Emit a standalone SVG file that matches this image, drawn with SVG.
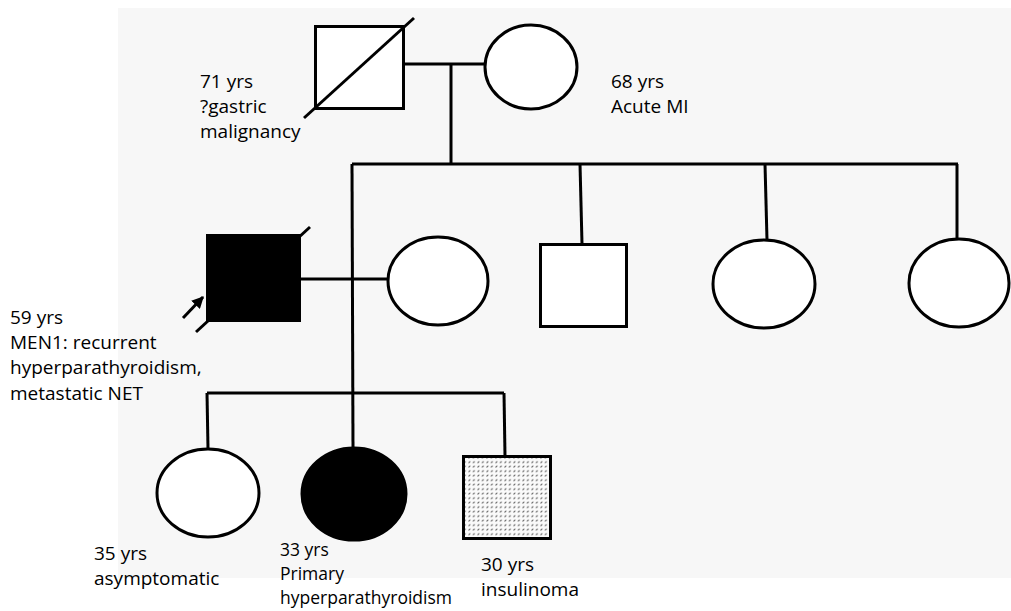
<svg xmlns="http://www.w3.org/2000/svg" width="1011" height="611" viewBox="0 0 1011 611">
<style>
.ln{stroke:#000;stroke-width:3;fill:none;stroke-linecap:butt}
.sym{stroke:#000;stroke-width:3;fill:#fff}
.aff{stroke:#000;stroke-width:3;fill:#000}
.lbl{font-family:"Open Sans","Liberation Sans",sans-serif;font-size:19px;fill:#000}
.lbs{font-size:17.5px}
</style>
<defs>
<pattern id="hatch" width="4.5" height="4.5" patternUnits="userSpaceOnUse">
<rect width="4.5" height="4.5" fill="#fafafa"/>
<line x1="0.5" y1="4" x2="2.2" y2="2.3" stroke="#444" stroke-width="1"/>
</pattern>
<marker id="ah" viewBox="0 0 10 10" refX="9" refY="5" markerWidth="4" markerHeight="4" orient="auto">
<path d="M0,0 L10,5 L0,10 z" fill="#000"/>
</marker>
</defs>
<rect x="0" y="0" width="1011" height="611" fill="#fff"/>
<rect x="118" y="8" width="893" height="570" fill="#f7f7f7"/>

<g id="connectors">
<line class="ln" x1="404" y1="64" x2="486" y2="64"/>
<line class="ln" x1="451" y1="64" x2="451" y2="164"/>
<line class="ln" x1="352" y1="164" x2="958" y2="164"/>
<line class="ln" x1="352" y1="164" x2="353" y2="447"/>
<line class="ln" x1="580" y1="164" x2="582" y2="244"/>
<line class="ln" x1="765" y1="164" x2="767" y2="240"/>
<line class="ln" x1="957" y1="164" x2="957" y2="238"/>
<line class="ln" x1="300" y1="279" x2="389" y2="279"/>
<line class="ln" x1="207" y1="393" x2="504" y2="393"/>
<line class="ln" x1="207" y1="393" x2="208" y2="449"/>
<line class="ln" x1="504" y1="393" x2="505" y2="456"/>
</g>

<g id="gen1-father">
<rect class="sym" x="315.5" y="26.5" width="88" height="82"/>
<line class="ln" x1="304" y1="118" x2="414" y2="18"/>
<text class="lbl" x="200" y="88">71 yrs</text>
<text class="lbl" x="200" y="113">?gastric</text>
<text class="lbl" x="200" y="138">malignancy</text>
</g>

<g id="gen1-mother">
<ellipse class="sym" cx="531" cy="67" rx="46" ry="42"/>
<text class="lbl" x="611" y="88">68 yrs</text>
<text class="lbl" x="611" y="113">Acute MI</text>
</g>

<g id="proband">
<line class="ln" x1="196" y1="332" x2="310" y2="227"/>
<rect class="aff" x="207.5" y="235.5" width="92" height="85"/>
<line class="ln" x1="183" y1="318" x2="203" y2="297" stroke-width="2.5" marker-end="url(#ah)"/>
<text class="lbl" x="10" y="324">59 yrs</text>
<text class="lbl" x="10" y="349">MEN1: recurrent</text>
<text class="lbl" x="10" y="374">hyperparathyroidism,</text>
<text class="lbl" x="10" y="400">metastatic NET</text>
</g>

<g id="proband-spouse">
<ellipse class="sym" cx="438" cy="281" rx="50" ry="44"/>
</g>

<g id="gen2-brother">
<rect class="sym" x="540.5" y="244.5" width="86" height="82"/>
</g>

<g id="gen2-sister1">
<ellipse class="sym" cx="764" cy="284" rx="51" ry="44"/>
</g>

<g id="gen2-sister2">
<ellipse class="sym" cx="959" cy="283" rx="50" ry="44"/>
</g>

<g id="gen3-daughter1">
<ellipse class="sym" cx="208" cy="493" rx="51" ry="44"/>
<text class="lbl" x="94" y="560">35 yrs</text>
<text class="lbl" x="94" y="585">asymptomatic</text>
</g>

<g id="gen3-daughter2">
<ellipse class="aff" cx="354" cy="494" rx="52" ry="46"/>
<text class="lbl lbs" x="280" y="556">33 yrs</text>
<text class="lbl lbs" x="280" y="580">Primary</text>
<text class="lbl lbs" x="280" y="604">hyperparathyroidism</text>
</g>

<g id="gen3-son">
<rect x="463.5" y="456.5" width="87" height="82" fill="url(#hatch)" stroke="#000" stroke-width="3"/>
<text class="lbl" x="481" y="571">30 yrs</text>
<text class="lbl" x="481" y="596">insulinoma</text>
</g>
</svg>
